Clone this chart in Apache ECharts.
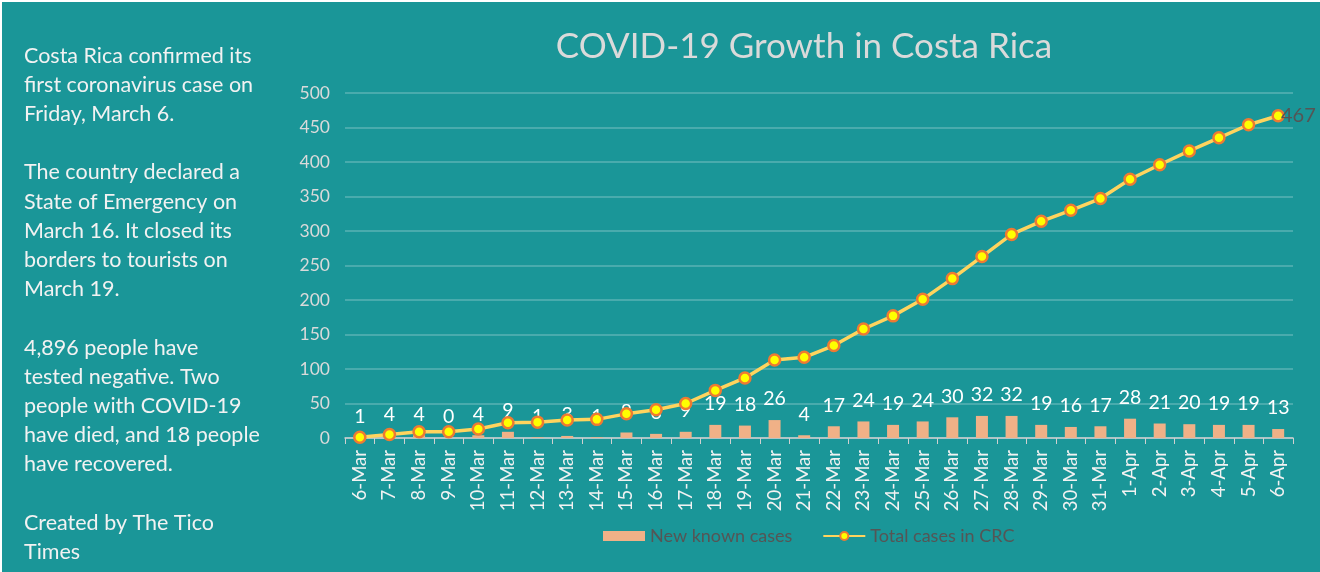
<!DOCTYPE html>
<html>
<head>
<meta charset="utf-8">
<script src="https://cdn.jsdelivr.net/npm/echarts@6/dist/echarts.min.js"></script>
<style>
html,body{margin:0;padding:0;background:#ffffff;}
#chart{position:absolute;left:2px;top:2px;width:1318px;height:570px;background:#1A9698;}
</style>
</head>
<body>
<div id="chart"></div>
<script>
const categories = ['6-Mar','7-Mar','8-Mar','9-Mar','10-Mar','11-Mar','12-Mar','13-Mar','14-Mar','15-Mar','16-Mar','17-Mar','18-Mar','19-Mar','20-Mar','21-Mar','22-Mar','23-Mar','24-Mar','25-Mar','26-Mar','27-Mar','28-Mar','29-Mar','30-Mar','31-Mar','1-Apr','2-Apr','3-Apr','4-Apr','5-Apr','6-Apr'];
const newCases = [1,4,4,0,4,9,1,3,1,8,6,9,19,18,26,4,17,24,19,24,30,32,32,19,16,17,28,21,20,19,19,13];
const totalCases = [1,5,9,9,13,22,23,26,27,35,41,50,69,87,113,117,134,158,177,201,231,263,295,314,330,347,375,396,416,435,454,467];
const yTicks = [0,50,100,150,200,250,300,350,400,450,500];
const titleText = 'COVID-19 Growth in Costa Rica';
const sideLines = [
  'Costa Rica confirmed its','first coronavirus case on','Friday, March 6.','',
  'The country declared a','State of Emergency on','March 16. It closed its','borders to tourists on','March 19.','',
  '4,896 people have','tested negative. Two','people with COVID-19','have died, and 18 people','have recovered.','',
  'Created by The Tico','Times'
];

const FONT = 'Lato, "Open Sans", sans-serif';
const chart = echarts.init(document.getElementById('chart'), null, {renderer:'canvas'});
const lastIdx = totalCases.length - 1;

chart.setOption({
  backgroundColor: '#1A9698',
  animation: false,
  title: {
    text: titleText,
    left: 797, top: 22, textAlign: 'center',
    textStyle: {color:'#DADADA', fontFamily: FONT, fontSize: 35, fontWeight: 'normal'}
  },
  graphic: [{
    type: 'text', left: 22, top: 39,
    style: {
      text: sideLines.join('\n'),
      fill: '#F2F2F2', font: '21.5px ' + FONT, lineHeight: 29.2
    }
  }],
  legend: {
    bottom: 22, left: 596,
    itemGap: 30, itemWidth: 42, itemHeight: 10,
    textStyle: {color:'#555555', fontFamily: FONT, fontSize: 18},
    data: [
      {name:'New known cases', icon:'rect'},
      {name:'Total cases in CRC'}
    ]
  },
  grid: {left: 343, right: 27, top: 91, bottom: 134, containLabel: false},
  xAxis: {
    type: 'category', data: categories, boundaryGap: true,
    axisLine: {lineStyle:{color:'#D0D0D0', width: 1.5}},
    axisTick: {show:true, alignWithLabel:false, length: 6, lineStyle:{color:'#D0D0D0'}},
    axisLabel: {rotate: 90, color:'#F2F2F2', fontFamily: FONT, fontSize: 18.5, margin: 12, interval: 0}
  },
  yAxis: {
    type: 'value', min: yTicks[0], max: yTicks[yTicks.length-1], interval: 50,
    axisLine: {show:false}, axisTick: {show:false},
    axisLabel: {color:'#DADADA', fontFamily: FONT, fontSize: 17.5, margin: 15},
    splitLine: {lineStyle:{color:'rgba(255,255,255,0.28)', width: 1.5}}
  },
  series: [
    {
      name: 'New known cases', type: 'bar', data: newCases,
      barWidth: 12,
      itemStyle: {color:'#F0B187'},
      label: {show:true, position:'top', distance: 11, color:'#FFFFFF', fontFamily: FONT, fontSize: 19.5}
    },
    {
      name: 'Total cases in CRC', type: 'line', data: totalCases,
      symbol: 'circle', symbolSize: 11,
      lineStyle: {color:'#FFD45E', width: 3.5},
      itemStyle: {color:'#FFFF00', borderColor:'#EE7A32', borderWidth: 2.5},
      label: {
        show: true,
        formatter: p => p.dataIndex === lastIdx ? String(p.value) : '',
        position: 'right', distance: -4,
        color:'#555555', fontFamily: FONT, fontSize: 20
      },
      z: 3
    }
  ]
});
</script>
</body>
</html>
